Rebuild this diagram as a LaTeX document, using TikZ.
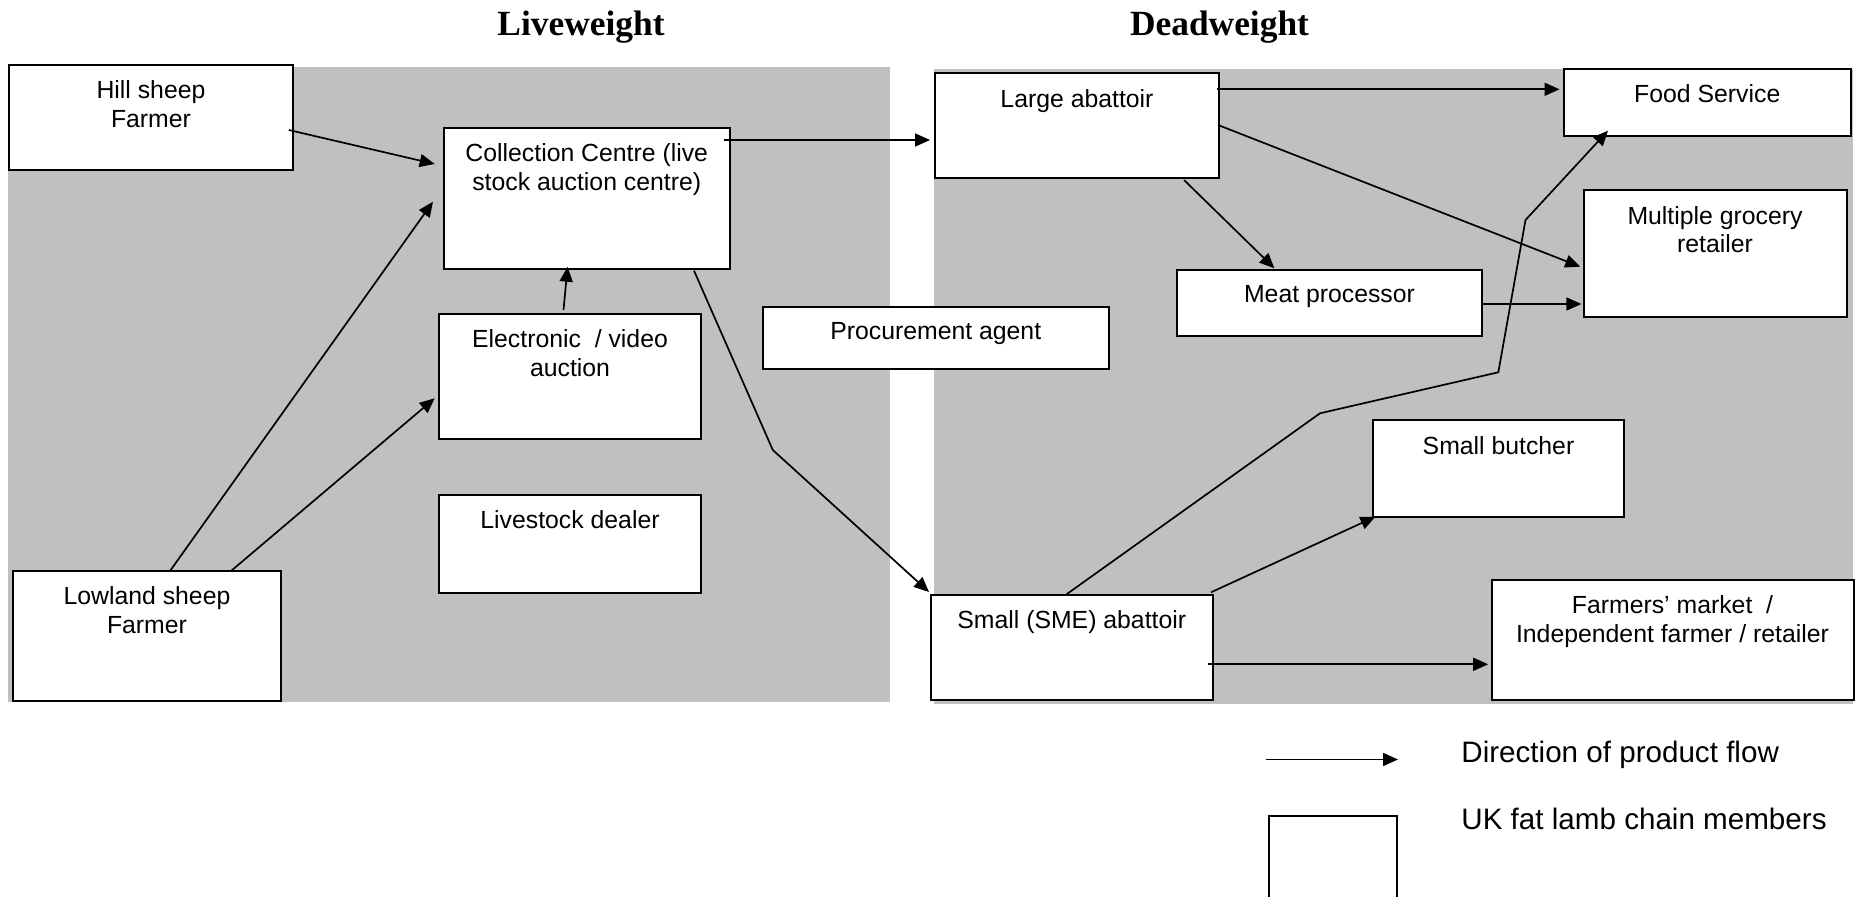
\documentclass[tikz,border=0pt]{standalone}
\usepackage{fontspec}
\setmainfont{Liberation Sans}
\newfontfamily\headingfont{Liberation Serif}
\usetikzlibrary{arrows.meta,calc}
\definecolor{zone}{RGB}{192,192,192}
\tikzset{
  member/.style={draw, line width=1pt, fill=white, anchor=north west,
    inner sep=0pt, outer sep=0pt},
  caption/.style={anchor=north, inner sep=0pt, yshift=-7.6pt, align=center,
    font=\fontsize{12.4}{14.25}\selectfont},
  flow/.style={line width=0.85pt, -{Triangle[length=7.5pt,width=6.5pt]}},
  heading/.style={font=\headingfont\bfseries\fontsize{17.7}{20}\selectfont,
    anchor=base, inner sep=0pt},
  legendtext/.style={font=\fontsize{14.8}{17}\selectfont, anchor=base west,
    inner sep=0pt}
}
\begin{document}
\begin{tikzpicture}[x=0.5pt,y=-0.5pt]
\useasboundingbox (0,0) rectangle (1861,897);
\clip (0,0) rectangle (1861,897);

% shaded zones
\fill[zone] (8,67) rectangle (890,702);
\fill[zone] (934,69) rectangle (1853,704);

% headings
\node[heading] (live) at (581,35.6) {Liveweight};
\node[heading] (dead) at (1219.5,35.6) {Deadweight};

% liveweight members
\node[member, minimum width=142pt, minimum height=52.5pt,
  label={[caption]north:{Hill sheep\\Farmer}}] (hill) at (9,65) {};
\node[member, minimum width=142.75pt, minimum height=70.5pt,
  label={[caption]north:{Collection Centre (live\\stock auction centre)}}] (coll) at (444,128) {};
\node[member, minimum width=131pt, minimum height=62.5pt,
  label={[caption]north:{Electronic~ / video\\auction}}] (elec) at (439,314) {};
\node[member, minimum width=131pt, minimum height=49pt,
  label={[caption]north:{Livestock dealer}}] (dealer) at (439,495) {};
\node[member, minimum width=134pt, minimum height=65pt,
  label={[caption]north:{Lowland sheep\\Farmer}}] (lowland) at (13,571) {};
\node[member, minimum width=173.25pt, minimum height=31pt,
  label={[caption]north:{Procurement agent}}] (agent) at (762.5,307) {};

% deadweight members
\node[member, minimum width=142pt, minimum height=52.5pt,
  label={[caption]north:{Large abattoir}}] (large) at (935,73.5) {};
\node[member, minimum width=143.25pt, minimum height=33.5pt,
  label={[caption]north:{Food Service}}] (food) at (1564,69) {};
\node[member, minimum width=131.5pt, minimum height=63.5pt,
  label={[caption]north:{Multiple grocery\\retailer}}] (multi) at (1583.5,190.5) {};
\node[member, minimum width=152.5pt, minimum height=33pt,
  label={[caption]north:{Meat processor}}] (meat) at (1177,270) {};
\node[member, minimum width=125.5pt, minimum height=48pt,
  label={[caption]north:{Small butcher}}] (butcher) at (1373,420.5) {};
\node[member, minimum width=141.25pt, minimum height=52.5pt,
  label={[caption]north:{Small (SME) abattoir}}] (sme) at (930.5,595) {};
\node[member, minimum width=181pt, minimum height=60pt,
  label={[caption]north:{Farmers’ market~ /\\Independent farmer / retailer}}] (farm) at (1491.5,580) {};

% product flows
\draw[flow] ($(hill.north east)+(-4.2,65)$) -- ($(coll.north west)+(-9.3,36)$);
\draw[flow] ($(lowland.north west)+(157,0)$) -- ($(coll.north west)+(-11,73.7)$);
\draw[flow] ($(lowland.north west)+(218,0)$) -- ($(elec.north west)+(-4.3,84.3)$);
\draw[flow] ($(elec.north west)+(124.5,-4)$) -- ($(coll.south west)+(123.6,-2.3)$);
\draw[flow] ($(coll.north east)+(-6,12)$) -- ($(large.north west)+(-5,66.5)$);
\draw[flow] ($(coll.south east)+(-35.5,1.7)$) -- ($(agent.south west)+(10.3,81)$)
  -- ($(sme.north west)+(-1.5,-3)$);
\draw[flow] ($(large.north east)+(-2.2,15.8)$) -- ($(food.north west)+(-4.5,20.3)$);
\draw[flow] ($(large.north east)+(-1,51.5)$) -- ($(multi.north west)+(-3.3,76.2)$);
\draw[flow] ($(large.south west)+(249,1.5)$) -- ($(meat.north west)+(97.4,-1.7)$);
\draw[flow] ($(meat.north east)+(0,34)$) -- ($(multi.north west)+(-2.1,113.5)$);
\draw[flow] ($(sme.north west)+(136,-0.7)$) -- ($(butcher.north west)+(-53,-7.2)$)
  -- ($(meat.south east)+(16.3,36.3)$) -- ($(multi.north west)+(-58,29.5)$)
  -- ($(food.south west)+(44,-5.3)$);
\draw[flow] ($(sme.north east)+(-2,-2.7)$) -- ($(butcher.south west)+(2.4,0.2)$);
\draw[flow] ($(sme.north east)+(-5,69.3)$) -- ($(farm.north west)+(-3.3,84.3)$);

% legend
\coordinate (keystart) at (1266,759.5);
\coordinate (keyend) at (1398,759.5);
\draw[flow] (keystart) -- (keyend);
\node[legendtext] (keyflow) at (1461,762) {Direction of product flow};
\node[member, minimum width=64.25pt, minimum height=50pt] (keybox) at (1268.5,816) {};
\node[legendtext] (keymember) at (1461,829.5) {UK fat lamb chain members};
\end{tikzpicture}
\end{document}
